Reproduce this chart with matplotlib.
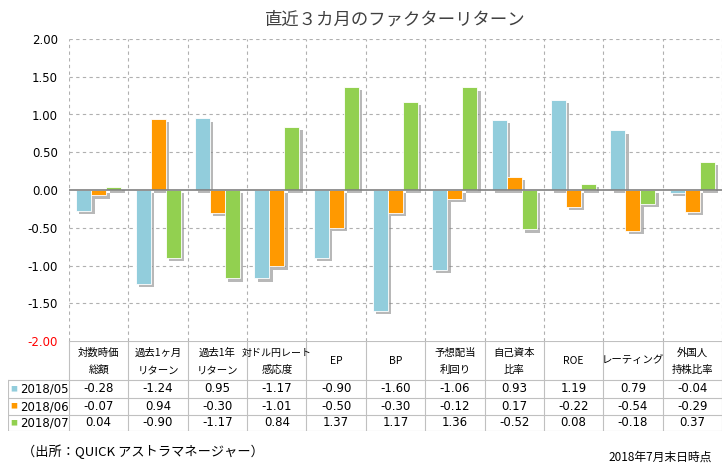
import matplotlib
matplotlib.use("Agg")
import matplotlib.pyplot as plt
import matplotlib.patheffects as pe
import numpy as np

plt.rcParams['font.family'] = ['Noto Sans CJK JP', 'DejaVu Sans']
plt.rcParams['axes.unicode_minus'] = False

# data
categories = ["対数時価\n総額", "過去1ヶ月\nリターン", "過去1年\nリターン", "対ドル円レート\n感応度", "EP", "BP",
              "予想配当\n利回り", "自己資本\n比率", "ROE", "レーティング", "外国人\n持株比率"]
months = ["2018/05", "2018/06", "2018/07"]
ret_05 = [-0.28, -1.24, 0.95, -1.17, -0.90, -1.60, -1.06, 0.93, 1.19, 0.79, -0.04]
ret_06 = [-0.07, 0.94, -0.30, -1.01, -0.50, -0.30, -0.12, 0.17, -0.22, -0.54, -0.29]
ret_07 = [0.04, -0.90, -1.17, 0.84, 1.37, 1.17, 1.36, -0.52, 0.08, -0.18, 0.37]
series = [ret_05, ret_06, ret_07]
colors = ['#92CDDC', '#FF9900', '#92D050']

W, H = 725, 469
fig = plt.figure(figsize=(W / 100, H / 100), dpi=100)
ax = fig.add_axes([69 / W, 1 - 341 / H, 653 / W, 302 / H])

x = np.arange(len(categories))
bw = 0.253
shadow = [pe.SimplePatchShadow(offset=(2.4, -2.4), shadow_rgbFace='#7f7f7f', alpha=0.55), pe.Normal()]
for k, vals in enumerate(series):
    ax.bar(x + (k - 1) * bw, vals, bw, color=colors[k], edgecolor='white', linewidth=0.6,
           zorder=3, path_effects=shadow)

ax.set_xlim(-0.5, len(categories) - 0.5)
ax.set_ylim(-2, 2)
ax.set_yticks(np.arange(-2, 2.01, 0.5))
ax.set_yticklabels(['%.2f' % v for v in np.arange(-2, 2.01, 0.5)], fontsize=8.5, family='DejaVu Sans')
ax.get_yticklabels()[0].set_color('red')
ax.tick_params(axis='y', length=0, pad=8)
ax.set_xticks([])
for s in ax.spines.values():
    s.set_visible(False)

# grid
for v in np.arange(-2, 2.01, 0.5):
    if v != 0 and v != -2:
        ax.axhline(v, color='#b0b0b0', lw=0.8, ls=(0, (3, 3)), zorder=1)
for b in np.arange(-0.5, len(categories), 1.0):
    ax.axvline(b, color='#b0b0b0', lw=0.8, ls=(0, (3, 3)), zorder=1)
ax.axhline(0, color='#808080', lw=1.2, zorder=4)

# table
tax = fig.add_axes([8 / W, 1 - 431 / H, 714 / W, 90 / H])
left = -0.5 - 61 / 59.36
tax.set_xlim(left, len(categories) - 0.5)
tax.set_ylim(90, 0)
tax.axis('off')
lc = '#c0c0c0'
rows = [0, 39, 57, 74, 90]
tax.plot([-0.5, 10.5], [0, 0], color=lc, lw=0.8)
for r in rows[1:]:
    tax.plot([left, 10.5], [r, r], color=lc, lw=0.8)
for b in np.arange(-0.5, len(categories), 1.0):
    tax.plot([b, b], [0, 90], color=lc, lw=0.8)
tax.plot([left, left], [39, 90], color=lc, lw=0.8)

for i, c in enumerate(categories):
    lines = c.split('\n')
    ys = [19.5] if len(lines) == 1 else [12, 29]
    for ln, yy in zip(lines, ys):
        fs = min(7.5, 56 / (len(ln) * 1.39 * 0.8))
        tax.text(i, yy, ln, ha='center', va='center', fontsize=fs)
for k, vals in enumerate(series):
    yc = (rows[k + 1] + rows[k + 2]) / 2
    tax.text(left + 0.09, yc, '■', color=colors[k], fontsize=5, ha='center', va='center')
    tax.text(left + 0.2, yc, months[k], fontsize=8.5, ha='left', va='center', family='DejaVu Sans')
    for i, v in enumerate(vals):
        tax.text(i, yc, '%.2f' % v, fontsize=8.5, ha='center', va='center', family='DejaVu Sans')

fig.text(395 / W, 1 - 20 / H, "直近３カ月のファクターリターン", ha='center', va='center', fontsize=12.5, color='#404040')
fig.text(22 / W, 1 - 452 / H, "（出所：QUICK アストラマネージャー）", ha='left', va='center', fontsize=9.5)
fig.text(712 / W, 1 - 457 / H, "2018年7月末日時点", ha='right', va='center', fontsize=8.5)

fig.savefig('out.png', dpi=100)
